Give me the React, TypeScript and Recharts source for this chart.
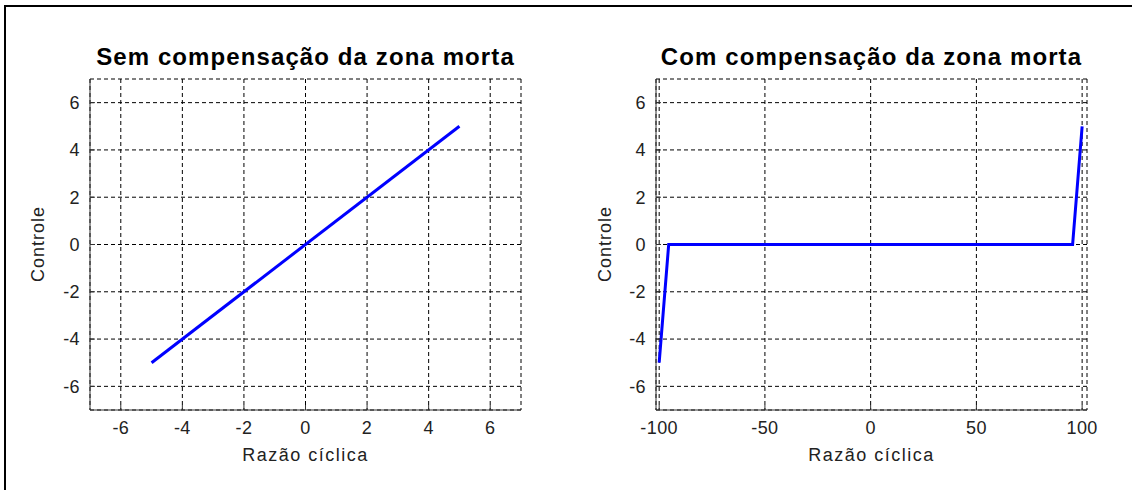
import React from 'react';
import { LineChart, Line, XAxis, YAxis, CartesianGrid } from 'recharts';

// Left chart: without dead-zone compensation
const leftX = [-5, 5];
const leftY = [-5, 5];
const leftXTicks = [-6, -4, -2, 0, 2, 4, 6];
const leftXDomain = [-7, 7];

// Right chart: with dead-zone compensation
const rightX = [-100, -95.5, 95.5, 100];
const rightY = [-5, 0, 0, 5];
const rightXTicks = [-100, -50, 0, 50, 100];
const rightXDomain = [-101.5, 102.3];

const yTicks = [-6, -4, -2, 0, 2, 4, 6];
const yDomain = [-7, 7];

const titles = ['Sem compensação da zona morta', 'Com compensação da zona morta'];
const xLabel = 'Razão cíclica';
const yLabel = 'Controle';

const FONT = '"Liberation Sans", Arial, Helvetica, sans-serif';
const TICK_COLOR = '#222';
const TICK_FONT_SIZE = 18;

function buildData(xs: number[], ys: number[]) {
  return xs.map((x, i) => ({ x, y: ys[i] }));
}

function XTick(props: any) {
  const { x, y, payload } = props;
  return (
    <text
      x={x}
      y={y}
      dy="0.71em"
      textAnchor="middle"
      fontSize={TICK_FONT_SIZE}
      fontFamily={FONT}
      fill={TICK_COLOR}
      style={{ letterSpacing: 0.4 }}
    >
      {payload.value}
    </text>
  );
}

function YTick(props: any) {
  const { x, y, payload } = props;
  return (
    <text
      x={x}
      y={y}
      dy="0.355em"
      textAnchor="end"
      fontSize={TICK_FONT_SIZE}
      fontFamily={FONT}
      fill={TICK_COLOR}
      style={{ letterSpacing: 0.4 }}
    >
      {payload.value}
    </text>
  );
}

type PanelProps = {
  left: number;
  width: number;
  marginRight: number;
  data: { x: number; y: number }[];
  xDomain: number[];
  xTicks: number[];
  title: string;
  yLabelX: number;
};

function Panel({ left, width, marginRight, data, xDomain, xTicks, title, yLabelX }: PanelProps) {
  const plotLeft = 90;
  const plotRight = width - marginRight;
  const centerX = (plotLeft + plotRight) / 2;
  return (
    <div style={{ position: 'absolute', left, top: 0, width, height: 490 }}>
      <LineChart
        width={width}
        height={490}
        data={data}
        margin={{ top: 79, right: marginRight, bottom: 50, left: 50 }}
      >
        <CartesianGrid stroke="#000" strokeDasharray="4 3" strokeWidth={1} />
        <XAxis
          dataKey="x"
          type="number"
          domain={xDomain}
          ticks={xTicks}
          allowDataOverflow
          height={30}
          stroke="#333"
          tickSize={-5}
          tickMargin={16}
          tick={<XTick />}
          interval={0}
        />
        <XAxis
          xAxisId="top"
          orientation="top"
          type="number"
          domain={xDomain}
          ticks={xTicks}
          allowDataOverflow
          height={0}
          stroke="#333"
          tickSize={-5}
          tickFormatter={() => ''}
          interval={0}
        />
        <YAxis
          type="number"
          domain={yDomain}
          ticks={yTicks}
          allowDataOverflow
          width={40}
          stroke="#333"
          tickSize={-5}
          tickMargin={15}
          tick={<YTick />}
          interval={0}
        />
        <YAxis
          yAxisId="right"
          orientation="right"
          type="number"
          domain={yDomain}
          ticks={yTicks}
          allowDataOverflow
          width={0}
          stroke="#333"
          tickSize={-5}
          tickFormatter={() => ''}
          interval={0}
        />
        <Line
          dataKey="y"
          type="linear"
          stroke="#0000ff"
          strokeWidth={3}
          dot={false}
          isAnimationActive={false}
        />
      </LineChart>
      <div
        style={{
          position: 'absolute',
          left: centerX - 300,
          width: 600,
          top: 42,
          textAlign: 'center',
          fontFamily: FONT,
          fontWeight: 'bold',
          fontSize: 24,
          letterSpacing: 1.1,
          color: '#000',
          lineHeight: '30px',
          whiteSpace: 'nowrap',
        }}
      >
        {title}
      </div>
      <div
        style={{
          position: 'absolute',
          left: centerX - 150,
          width: 300,
          top: 443,
          textAlign: 'center',
          fontFamily: FONT,
          fontSize: 18,
          letterSpacing: 1.5,
          color: TICK_COLOR,
          lineHeight: '24px',
          whiteSpace: 'nowrap',
        }}
      >
        {xLabel}
      </div>
      <div
        style={{
          position: 'absolute',
          left: yLabelX - 100,
          width: 200,
          top: 244 - 12,
          textAlign: 'center',
          fontFamily: FONT,
          fontSize: 18,
          letterSpacing: 1,
          color: TICK_COLOR,
          lineHeight: '24px',
          transform: 'rotate(-90deg)',
          whiteSpace: 'nowrap',
        }}
      >
        {yLabel}
      </div>
    </div>
  );
}

export default function App() {
  return (
    <div
      style={{
        position: 'absolute',
        left: 0,
        top: 0,
        width: 1132,
        height: 490,
        background: '#fff',
        overflow: 'hidden',
      }}
    >
      <div
        style={{
          position: 'absolute',
          left: 4,
          top: 5,
          width: 1200,
          height: 600,
          borderLeft: '2px solid #000',
          borderTop: '2px solid #000',
        }}
      />
      <Panel
        left={0}
        width={560}
        marginRight={39}
        data={buildData(leftX, leftY)}
        xDomain={leftXDomain}
        xTicks={leftXTicks}
        title={titles[0]}
        yLabelX={38}
      />
      <Panel
        left={566}
        width={566}
        marginRight={45}
        data={buildData(rightX, rightY)}
        xDomain={rightXDomain}
        xTicks={rightXTicks}
        title={titles[1]}
        yLabelX={605 - 566}
      />
    </div>
  );
}
